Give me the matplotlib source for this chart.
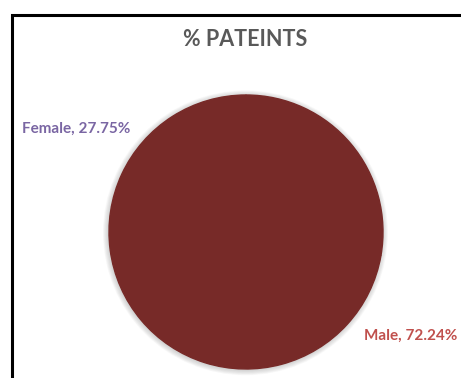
import matplotlib.pyplot as plt
from matplotlib.patches import Rectangle, Circle

# data
labels = ["Female", "Male"]
values = [27.75, 72.24]
title = "% PATEINTS"

slice_color = "#772A28"
label_colors = ["#7A66A3", "#C0504D"]

plt.rcParams['font.family'] = ['Lato', 'DejaVu Sans']

W, H = 461, 378
fig = plt.figure(figsize=(W / 100, H / 100), dpi=100)

# outer frame (open at right and bottom in the crop)
fig.patches.append(Rectangle((12 / W, -0.05), 1.0, 1 - 15 / H + 0.05,
                             transform=fig.transFigure, fill=False,
                             edgecolor="black", linewidth=2.2))

# pie axes, placed in pixels
cx, cy, r = 246, H - 232, 137
ax = fig.add_axes([(cx - r) / W, (cy - r) / H, 2 * r / W, 2 * r / H])

# soft shadow around the pie
for k in range(10):
    ax.add_patch(Circle((-0.004, -0.006), 1.0 + 0.004 * (k + 1), color="#909090",
                        alpha=0.045, linewidth=0, clip_on=False, zorder=0))

ax.pie(values, colors=[slice_color, slice_color], startangle=90,
       counterclock=False, radius=1.0, normalize=True,
       wedgeprops=dict(linewidth=1.0, edgecolor=slice_color, zorder=2))
ax.set_xlim(-1, 1)
ax.set_ylim(-1, 1)
ax.set_aspect("equal")
ax.axis("off")

fig.text(245 / W, 1 - 39 / H, title, ha="center", va="center",
         fontsize=15.5, fontweight="bold", color="#595959")

pos = [(22, 129, "left"), (457, 336, "right")]
for (x, y, ha), lab, v, c in zip(pos, labels, values, label_colors):
    fig.text(x / W, 1 - y / H, f"{lab}, {v:.2f}%", ha=ha, va="center",
             fontsize=11, fontweight="bold", color=c)

fig.savefig("out.png", dpi=100, facecolor="white")
